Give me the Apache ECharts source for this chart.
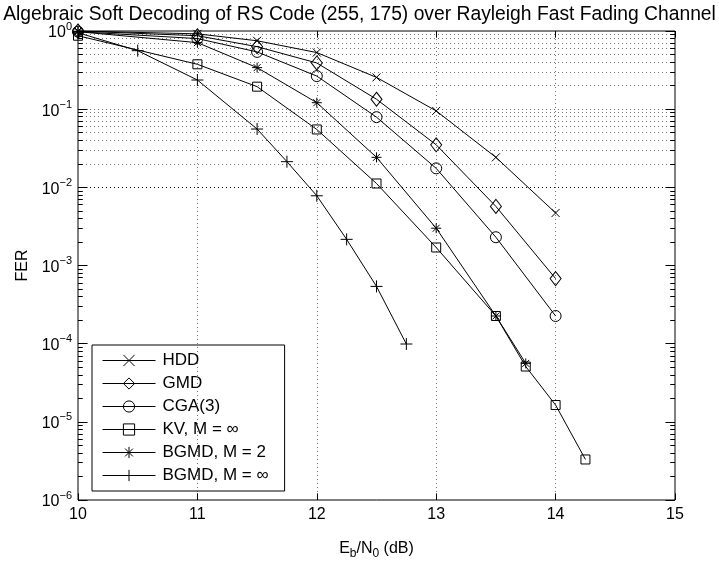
<!DOCTYPE html>
<html>
<head>
<meta charset="utf-8">
<script src="https://cdn.jsdelivr.net/npm/echarts@6/dist/echarts.min.js"></script>
<style>
  html, body { margin: 0; padding: 0; background: #fff; }
  #chart { width: 719px; height: 561px; }
</style>
</head>
<body>
<div id="chart"></div>
<script>
// Eb/N0 (dB) and FER for each decoder
const hddX = [10, 11, 11.5, 12, 12.5, 13, 13.5, 14];
const hddY = [1.0, 0.92, 0.75, 0.53, 0.255, 0.095, 0.0242, 0.0047];

const gmdX = [10, 11, 11.5, 12, 12.5, 13, 13.5, 14];
const gmdY = [1.0, 0.87, 0.63, 0.39, 0.134, 0.035, 0.0057, 0.00068];

const cgaX = [10, 11, 11.5, 12, 12.5, 13, 13.5, 14];
const cgaY = [0.98, 0.8, 0.54, 0.265, 0.079, 0.0175, 0.0023, 0.000226];

const kvX = [10, 11, 11.5, 12, 12.5, 13, 13.5, 13.75, 14, 14.25];
const kvY = [0.87, 0.375, 0.194, 0.055, 0.0112, 0.0017, 0.000226, 5.1e-5, 1.64e-5, 3.3e-6];

const bgmd2X = [10, 11, 11.5, 12, 12.5, 13, 13.5, 13.75];
const bgmd2Y = [0.98, 0.71, 0.34, 0.121, 0.0242, 0.003, 0.000226, 5.6e-5];

const bgmdInfX = [10, 10.5, 11, 11.5, 11.75, 12, 12.25, 12.5, 12.75];
const bgmdInfY = [0.95, 0.56, 0.236, 0.0557, 0.0213, 0.0078, 0.00216, 0.00054, 9.9e-5];

const names = ['HDD', 'GMD', 'CGA(3)', 'KV, M = ∞', 'BGMD, M = 2', 'BGMD, M = ∞'];
const xTicks = [10, 11, 12, 13, 14, 15];
const decades = [-6, -5, -4, -3, -2, -1, 0];

const FONT = '"Liberation Sans", Arial, Helvetica, sans-serif';

const symX = 'path://M0,0L10,10M10,0L0,10';
const symPlus = 'path://M5,0L5,10M0,5L10,5';
const symStar = 'path://M5,0L5,10M0,5L10,5M1.5,1.5L8.5,8.5M8.5,1.5L1.5,8.5';

function pairs(xs, ys) {
  return xs.map((x, i) => [x, ys[i]]);
}

// minor log grid values (2..9 per decade)
const minorVals = [];
decades.slice(0, -1).forEach(d => {
  for (let m = 2; m <= 9; m++) minorVals.push(m * Math.pow(10, d));
});
const majorVals = decades.map(d => Math.pow(10, d));

const dotted = { color: '#000', width: 1, type: [1, 3], opacity: 0.55 };

function gridLines() {
  const data = [];
  minorVals.concat(majorVals.slice(1, -1)).forEach(v => {
    data.push({ yAxis: v });
  });
  xTicks.slice(1, -1).forEach(x => data.push({ xAxis: x }));
  return data;
}

function tickMarks() {
  const data = [];
  const tk = 0.04;
  minorVals.forEach(v => {
    data.push([{ coord: [10, v] }, { coord: [10 + tk, v] }]);
    data.push([{ coord: [15 - tk, v] }, { coord: [15, v] }]);
  });
  majorVals.forEach(v => {
    data.push([{ coord: [10, v] }, { coord: [10 + 2 * tk, v] }]);
    data.push([{ coord: [15 - 2 * tk, v] }, { coord: [15, v] }]);
  });
  xTicks.forEach(x => {
    data.push([{ coord: [x, 1e-6] }, { coord: [x, 1e-6 * Math.pow(10, 0.085)] }]);
    data.push([{ coord: [x, 1] }, { coord: [x, Math.pow(10, -0.085)] }]);
  });
  return data;
}

const markerSpec = [
  { symbol: symX, size: [8, 8] },
  { symbol: 'diamond', size: [11, 14] },
  { symbol: 'circle', size: 11 },
  { symbol: 'rect', size: 9 },
  { symbol: symStar, size: 10 },
  { symbol: symPlus, size: 12 }
];

const seriesData = [
  pairs(hddX, hddY),
  pairs(gmdX, gmdY),
  pairs(cgaX, cgaY),
  pairs(kvX, kvY),
  pairs(bgmd2X, bgmd2Y),
  pairs(bgmdInfX, bgmdInfY)
];

const series = seriesData.map((d, i) => ({
  name: names[i],
  type: 'line',
  data: d,
  symbol: markerSpec[i].symbol,
  symbolSize: markerSpec[i].size,
  showAllSymbol: true,
  lineStyle: { color: '#000', width: 1 },
  itemStyle: { color: 'none', borderColor: '#000', borderWidth: 1 },
  emphasis: { disabled: true },
  z: 5
}));

series.unshift({
  name: 'grid',
  type: 'line',
  data: [],
  silent: true,
  markLine: {
    symbol: 'none',
    silent: true,
    label: { show: false },
    lineStyle: dotted,
    data: gridLines(),
    animation: false
  }
}, {
  name: 'ticks',
  type: 'line',
  data: [],
  silent: true,
  markLine: {
    symbol: 'none',
    silent: true,
    label: { show: false },
    lineStyle: { color: '#000', width: 1, type: 'solid' },
    data: tickMarks(),
    animation: false
  }
});

const chart = echarts.init(document.getElementById('chart'));
chart.setOption({
  animation: false,
  backgroundColor: '#fff',
  textStyle: { fontFamily: FONT, color: '#000' },
  title: {
    text: 'Algebraic Soft Decoding of RS Code (255, 175) over Rayleigh Fast Fading Channel',
    left: 'center',
    top: 0,
    textStyle: { fontFamily: FONT, fontSize: 19.3, fontWeight: 'normal', color: '#000' }
  },
  grid: {
    left: 78, right: 44, top: 31, bottom: 61,
    outerBoundsMode: 'none',
    containLabel: false,
    show: true, borderColor: '#000', borderWidth: 1, backgroundColor: 'transparent'
  },
  legend: {
    data: names,
    orient: 'vertical',
    left: 92,
    top: 345,
    itemWidth: 53,
    itemHeight: 14,
    itemGap: 6,
    padding: [7, 16, 7, 10],
    backgroundColor: '#fff',
    borderColor: '#000',
    borderWidth: 1,
    borderRadius: 0,
    itemStyle: { color: 'none', borderColor: '#000', borderWidth: 1 },
    lineStyle: { color: '#000', width: 1 },
    textStyle: { fontFamily: FONT, fontSize: 17, color: '#000', padding: [0, 0, 0, 2] }
  },
  xAxis: {
    type: 'value',
    min: 10, max: 15, interval: 1,
    name: 'E{sub|b}/N{sub|0} (dB)',
    nameLocation: 'middle',
    nameGap: 38,
    nameTextStyle: {
      fontFamily: FONT, fontSize: 16, color: '#000',
      rich: { sub: { fontFamily: FONT, fontSize: 12, padding: [10, 0, 0, 0] } }
    },
    axisLine: { show: false },
    axisTick: { show: false },
    splitLine: { show: false },
    axisLabel: { fontFamily: FONT, fontSize: 16, color: '#000', margin: 7 }
  },
  yAxis: {
    type: 'log',
    logBase: 10,
    min: 1e-6, max: 1,
    name: 'FER',
    nameLocation: 'middle',
    nameGap: 47,
    nameRotate: 90,
    nameTextStyle: { fontFamily: FONT, fontSize: 16, color: '#000' },
    axisLine: { show: false },
    axisTick: { show: false },
    splitLine: { show: false },
    axisLabel: {
      margin: 6,
      color: '#000',
      formatter: v => {
        const e = Math.round(Math.log10(v));
        return '{b|10}{s|' + (e < 0 ? '−' + (-e) : e) + '}';
      },
      rich: {
        b: { fontFamily: FONT, fontSize: 16, color: '#000', verticalAlign: 'bottom' },
        s: { fontFamily: FONT, fontSize: 11, color: '#000', verticalAlign: 'bottom', padding: [0, 0, 9, 0] }
      }
    }
  },
  series: series
});
</script>
</body>
</html>
